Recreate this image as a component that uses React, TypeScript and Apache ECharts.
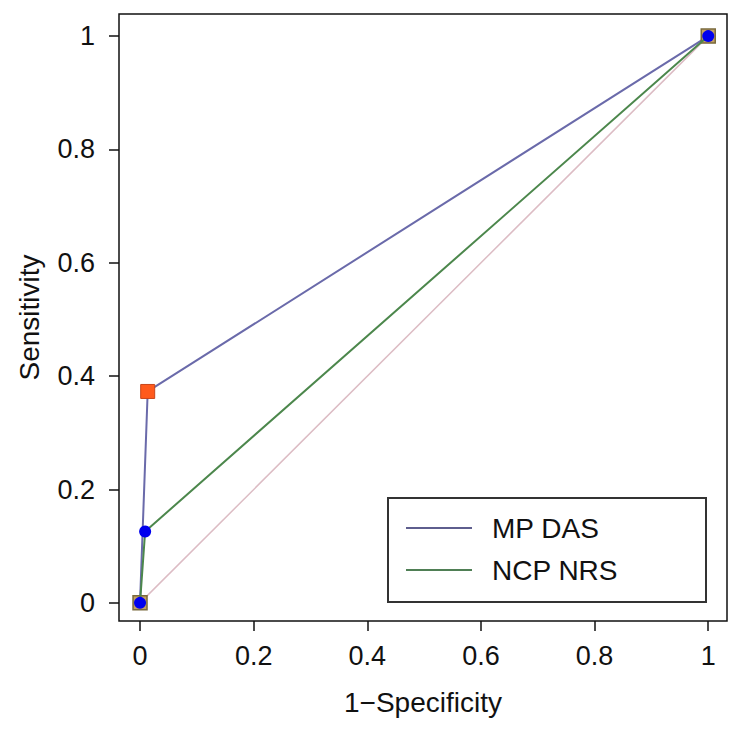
import React, { useEffect, useRef } from "react";
import * as echarts from "echarts";

// ROC curve data (1-Specificity, Sensitivity)
const mpDasFpr = [0, 0.0135, 1];
const mpDasTpr = [0, 0.373, 1];
const ncpNrsFpr = [0, 0.009, 1];
const ncpNrsTpr = [0, 0.126, 1];
const referenceLine = [0, 1];
const tickValues = [0, 0.2, 0.4, 0.6, 0.8, 1];
const seriesNames = ["MP DAS", "NCP NRS"];

const FONT = "'Liberation Sans', Arial, Helvetica, sans-serif";

export default function App() {
  const ref = useRef<HTMLDivElement>(null);

  useEffect(() => {
    if (!ref.current) return;
    const chart = echarts.init(ref.current, null, { renderer: "svg" });

    const mpData = mpDasFpr.map((x, i) => {
      const isMid = i > 0 && i < mpDasFpr.length - 1;
      return {
        value: [x, mpDasTpr[i]],
        itemStyle: isMid
          ? { color: "#ff5a1c", borderColor: "#c8461a", borderWidth: 1 }
          : { color: "#c4a064", borderColor: "#7a6a3c", borderWidth: 1.5 },
      };
    });
    const ncpData = ncpNrsFpr.map((x, i) => [x, ncpNrsTpr[i]]);
    const refData = referenceLine.map((v) => [v, v]);

    const tickLabelStyle = { fontFamily: FONT, fontSize: 27, color: "#111" };
    const nameStyle = { fontFamily: FONT, fontSize: 28, color: "#111" };

    chart.setOption({
      animation: false,
      backgroundColor: "#fff",
      grid: {
        left: 119,
        right: 14,
        top: 14,
        bottom: 109,
        show: true,
        borderColor: "#111",
        borderWidth: 1.5,
        backgroundColor: "transparent",
      },
      xAxis: {
        type: "value",
        min: -0.037,
        max: 1.033,
        position: "bottom",
        name: "1\u2212Specificity",
        nameLocation: "middle",
        nameGap: 67,
        nameTextStyle: { ...nameStyle },
        axisLine: { show: false, onZero: false },
        axisTick: {
          show: true,
          inside: false,
          length: 10,
          lineStyle: { color: "#111", width: 1.5 },
          customValues: tickValues,
        },
        axisLabel: {
          ...tickLabelStyle,
          margin: 21,
          customValues: tickValues,
          formatter: (v: number) => String(v),
        },
        splitLine: { show: false },
      },
      yAxis: {
        type: "value",
        min: -0.032,
        max: 1.039,
        position: "left",
        name: "Sensitivity",
        nameLocation: "middle",
        nameGap: 76,
        nameTextStyle: { ...nameStyle },
        axisLine: { show: false, onZero: false },
        axisTick: {
          show: true,
          inside: false,
          length: 10,
          lineStyle: { color: "#111", width: 1.5 },
          customValues: tickValues,
        },
        axisLabel: {
          ...tickLabelStyle,
          margin: 24,
          customValues: tickValues,
          formatter: (v: number) => String(v),
        },
        splitLine: { show: false },
      },
      legend: {
        orient: "vertical",
        left: 406,
        top: 514,
        z: 10,
        selectedMode: false,
        itemWidth: 66,
        itemHeight: 2,
        itemGap: 14,
        padding: 0,
        textStyle: {
          fontFamily: FONT,
          fontSize: 28,
          color: "#111",
          lineHeight: 28,
          padding: [0, 0, 0, 15],
        },
        data: [
          { name: seriesNames[0], icon: "rect", itemStyle: { color: "#5e5e8e", borderWidth: 0 } },
          { name: seriesNames[1], icon: "rect", itemStyle: { color: "#4f7f55", borderWidth: 0 } },
        ],
      },
      graphic: [
        {
          type: "rect",
          z: 5,
          shape: { x: 388, y: 498, width: 318, height: 104 },
          style: { fill: "#fff", stroke: "#333", lineWidth: 2 },
        },
      ],
      series: [
        {
          name: "reference",
          type: "line",
          data: refData,
          symbol: "none",
          silent: true,
          lineStyle: { color: "#dcbcc4", width: 1.5 },
          z: 1,
        },
        {
          name: seriesNames[0],
          type: "line",
          data: mpData,
          symbol: "rect",
          symbolSize: 14,
          showAllSymbol: true,
          lineStyle: { color: "#6a6aaa", width: 2 },
          z: 2,
        },
        {
          name: seriesNames[1],
          type: "line",
          data: ncpData,
          symbol: "circle",
          symbolSize: 12,
          showAllSymbol: true,
          itemStyle: { color: "#0000ee", borderWidth: 0 },
          lineStyle: { color: "#4c874c", width: 2 },
          z: 3,
        },
      ],
    });

    return () => chart.dispose();
  }, []);

  return (
    <div
      ref={ref}
      style={{ position: "absolute", left: 0, top: 0, width: 741, height: 730 }}
    />
  );
}
